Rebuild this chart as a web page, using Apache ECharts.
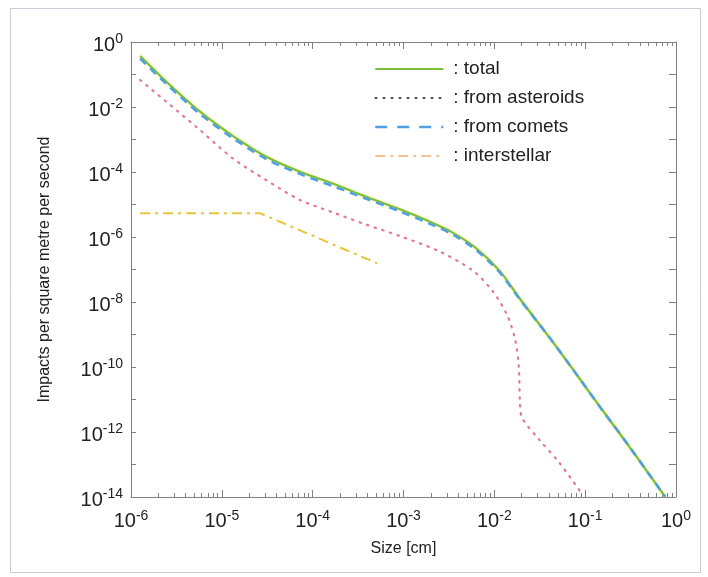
<!DOCTYPE html>
<html>
<head>
<meta charset="utf-8">
<script src="https://cdn.jsdelivr.net/npm/echarts@6/dist/echarts.min.js"></script>
<style>
html,body{margin:0;padding:0;background:#fff;}
#c{width:708px;height:577px;}
</style>
</head>
<body>
<div id="c"></div>
<script>
// ---- data (size in cm, impacts per m^2 per s) ----
const totalSize = [1.26e-6, 2.45e-6, 5.75e-6, 1.32e-5, 3.09e-5, 7.24e-5, 1.66e-4, 3.89e-4, 9.12e-4, 1.95e-3, 3.55e-3, 6.31e-3, 1.15e-2, 1.91e-2, 4.07e-2, 7.41e-2, 1.45e-1, 2.88e-1, 5.62e-1, 7.59e-1];
const totalFlux = [3.7e-1, 6.0e-2, 7.2e-3, 1.3e-3, 2.95e-4, 1.02e-4, 4.4e-5, 1.74e-5, 7.1e-6, 2.95e-6, 1.32e-6, 4.5e-7, 8.9e-8, 1.26e-8, 7.9e-10, 8.1e-11, 6.0e-12, 4.5e-13, 3.3e-14, 1.02e-14];
const cometFlux = [3.1e-1, 5.1e-2, 6.1e-3, 1.1e-3, 2.5e-4, 8.7e-5, 3.7e-5, 1.5e-5, 6.1e-6, 2.55e-6, 1.15e-6, 3.95e-7, 8.0e-8, 1.2e-8, 7.9e-10, 8.1e-11, 6.0e-12, 4.5e-13, 3.3e-14, 1.02e-14];
const asteroidSize = [1.26e-6, 2.45e-6, 5.75e-6, 1.32e-5, 3.09e-5, 7.24e-5, 1.66e-4, 3.89e-4, 9.12e-4, 2.51e-3, 5.89e-3, 9.77e-3, 1.38e-2, 1.70e-2, 1.86e-2, 1.91e-2, 2.0e-2, 3.16e-2, 5.25e-2, 9.12e-2];
const asteroidFlux = [6.8e-2, 1.45e-2, 1.95e-3, 2.63e-4, 5.6e-5, 1.38e-5, 5.75e-6, 2.4e-6, 1.07e-6, 3.55e-7, 8.9e-8, 2.0e-8, 4.0e-9, 6.8e-10, 1.02e-10, 9.5e-12, 2.95e-12, 5.6e-13, 1.1e-13, 1.29e-14];
const interstellarSize = [1.26e-6, 2.63e-5, 5.13e-4];
const interstellarFlux = [5.4e-6, 5.4e-6, 1.55e-7];
const seriesNames = [': total', ': from asteroids', ': from comets', ': interstellar'];
const xRange = [1e-6, 1];
const yRange = [1e-14, 1];

function pairs(xs, ys){ return xs.map((x,i)=>[x, ys[i]]); }

const FONT = '"Liberation Sans", Arial, Helvetica, sans-serif';
const AX = '#808080';
function expOf(v){ return Math.round(Math.log10(v)); }
const rich = {
  b: {fontSize: 20, fontFamily: FONT, color: '#222'},
  s: {fontSize: 14, fontFamily: FONT, color: '#222', padding: [0,0,11,0]}
};

// minor tick positions (exponent units) for the overlay axes
const minorX = [];
for (let d = -6; d < 0; d++) for (let k = 1; k < 10; k++) minorX.push(d + Math.log10(k));
minorX.push(0);

const grid = {left: 131, top: 42, width: 545, height: 455};
const hideSym = {color: 'rgba(0,0,0,0)', borderWidth: 0, opacity: 0};

const chart = echarts.init(document.getElementById('c'), null, {renderer: 'canvas'});
chart.setOption({
  animation: false,
  backgroundColor: '#fff',
  graphic: [{type: 'rect', shape: {x: 10.5, y: 8.5, width: 690, height: 564}, style: {fill: 'none', stroke: '#c9cdd9', lineWidth: 1}, silent: true, z: -10}],
  grid: [Object.assign({}, grid), Object.assign({}, grid)],
  legend: {
    orient: 'vertical', left: 369, top: 53, itemWidth: 68, itemHeight: 14, itemGap: 7,
    textStyle: {fontSize: 19, fontFamily: FONT, color: '#222', lineHeight: 22, padding: [0,0,0,5]},
    data: [
      {name: seriesNames[0], itemStyle: hideSym, lineStyle: {color: '#7cbf3a', width: 2, type: 'solid'}},
      {name: seriesNames[1], itemStyle: hideSym, lineStyle: {color: '#111', width: 1.5, type: [1.5, 6.5]}},
      {name: seriesNames[2], itemStyle: hideSym, lineStyle: {color: '#4f9fe3', width: 2.5, type: [12, 10]}},
      {name: seriesNames[3], itemStyle: hideSym, lineStyle: {color: '#efb070', width: 1.5, type: [10, 5, 3, 5]}}
    ]
  },
  xAxis: [
    {type: 'log', gridIndex: 0, position: 'bottom', min: xRange[0], max: xRange[1], logBase: 10, interval: 1,
     axisLine: {lineStyle: {color: AX}}, axisTick: {inside: true, length: 7, lineStyle: {color: AX}},
     splitLine: {show: false},
     axisLabel: {margin: 12, formatter: v => '{b|10}{s|' + expOf(v) + '}', rich: rich},
     name: 'Size [cm]', nameLocation: 'middle', nameGap: 44,
     nameTextStyle: {fontSize: 16, fontFamily: FONT, color: '#222'}},
    {type: 'log', gridIndex: 0, position: 'top', min: xRange[0], max: xRange[1], logBase: 10, interval: 1,
     axisLine: {lineStyle: {color: AX}}, axisTick: {inside: true, length: 7, lineStyle: {color: AX}},
     splitLine: {show: false}, axisLabel: {show: false}},
    {type: 'value', gridIndex: 1, position: 'bottom', min: -6, max: 0,
     axisLine: {show: false}, axisLabel: {show: false}, splitLine: {show: false},
     axisTick: {inside: true, length: 4, customValues: minorX, lineStyle: {color: AX}}},
    {type: 'value', gridIndex: 1, position: 'top', min: -6, max: 0,
     axisLine: {show: false}, axisLabel: {show: false}, splitLine: {show: false},
     axisTick: {inside: true, length: 4, customValues: minorX, lineStyle: {color: AX}}}
  ],
  yAxis: [
    {type: 'log', gridIndex: 0, position: 'left', min: yRange[0], max: yRange[1], logBase: 10, interval: 1,
     axisLine: {lineStyle: {color: AX}}, axisTick: {inside: true, length: 5, lineStyle: {color: AX}},
     splitLine: {show: false},
     axisLabel: {margin: 8, padding: [6,0,0,0], formatter: v => { const e = expOf(v); return (e % 2 === 0) ? '{b|10}{s|' + e + '}' : ''; }, rich: rich},
     name: 'Impacts per square metre per second', nameLocation: 'middle', nameGap: 78,
     nameTextStyle: {fontSize: 16, fontFamily: FONT, color: '#222'}},
    {type: 'log', gridIndex: 0, position: 'right', min: yRange[0], max: yRange[1], logBase: 10, interval: 1,
     axisLine: {lineStyle: {color: AX}}, axisTick: {inside: true, length: 7, lineStyle: {color: AX}},
     splitLine: {show: false}, axisLabel: {show: false}},
    {type: 'value', gridIndex: 1, show: false, min: 0, max: 1}
  ],
  series: [
    {name: seriesNames[1], type: 'line', xAxisIndex: 0, yAxisIndex: 0, showSymbol: false, symbol: 'none', smooth: 0.3,
     data: pairs(asteroidSize, asteroidFlux), z: 2, itemStyle: {color: '#e4789a'},
     lineStyle: {color: '#e4789a', width: 2.2, type: [1.5, 6.5], cap: 'round'}},
    {name: seriesNames[3], type: 'line', xAxisIndex: 0, yAxisIndex: 0, showSymbol: false, symbol: 'none',
     data: pairs(interstellarSize, interstellarFlux), z: 2, itemStyle: {color: '#e6c53a'},
     lineStyle: {color: '#e6c53a', width: 2, type: [10, 5, 3, 5]}},
    {name: seriesNames[0], type: 'line', xAxisIndex: 0, yAxisIndex: 0, showSymbol: false, symbol: 'none', smooth: 0.3,
     data: pairs(totalSize, totalFlux), z: 3, itemStyle: {color: '#7cbf3a'},
     lineStyle: {color: '#7cbf3a', width: 2.2, type: 'solid', shadowColor: 'rgba(225,230,90,0.7)', shadowBlur: 3}},
    {name: seriesNames[2], type: 'line', xAxisIndex: 0, yAxisIndex: 0, showSymbol: false, symbol: 'none', smooth: 0.3,
     data: pairs(totalSize, cometFlux), z: 4, itemStyle: {color: '#4f9fe3'},
     lineStyle: {color: '#4f9fe3', width: 2.5, type: [8, 6]}}
  ]
});
</script>
</body>
</html>
